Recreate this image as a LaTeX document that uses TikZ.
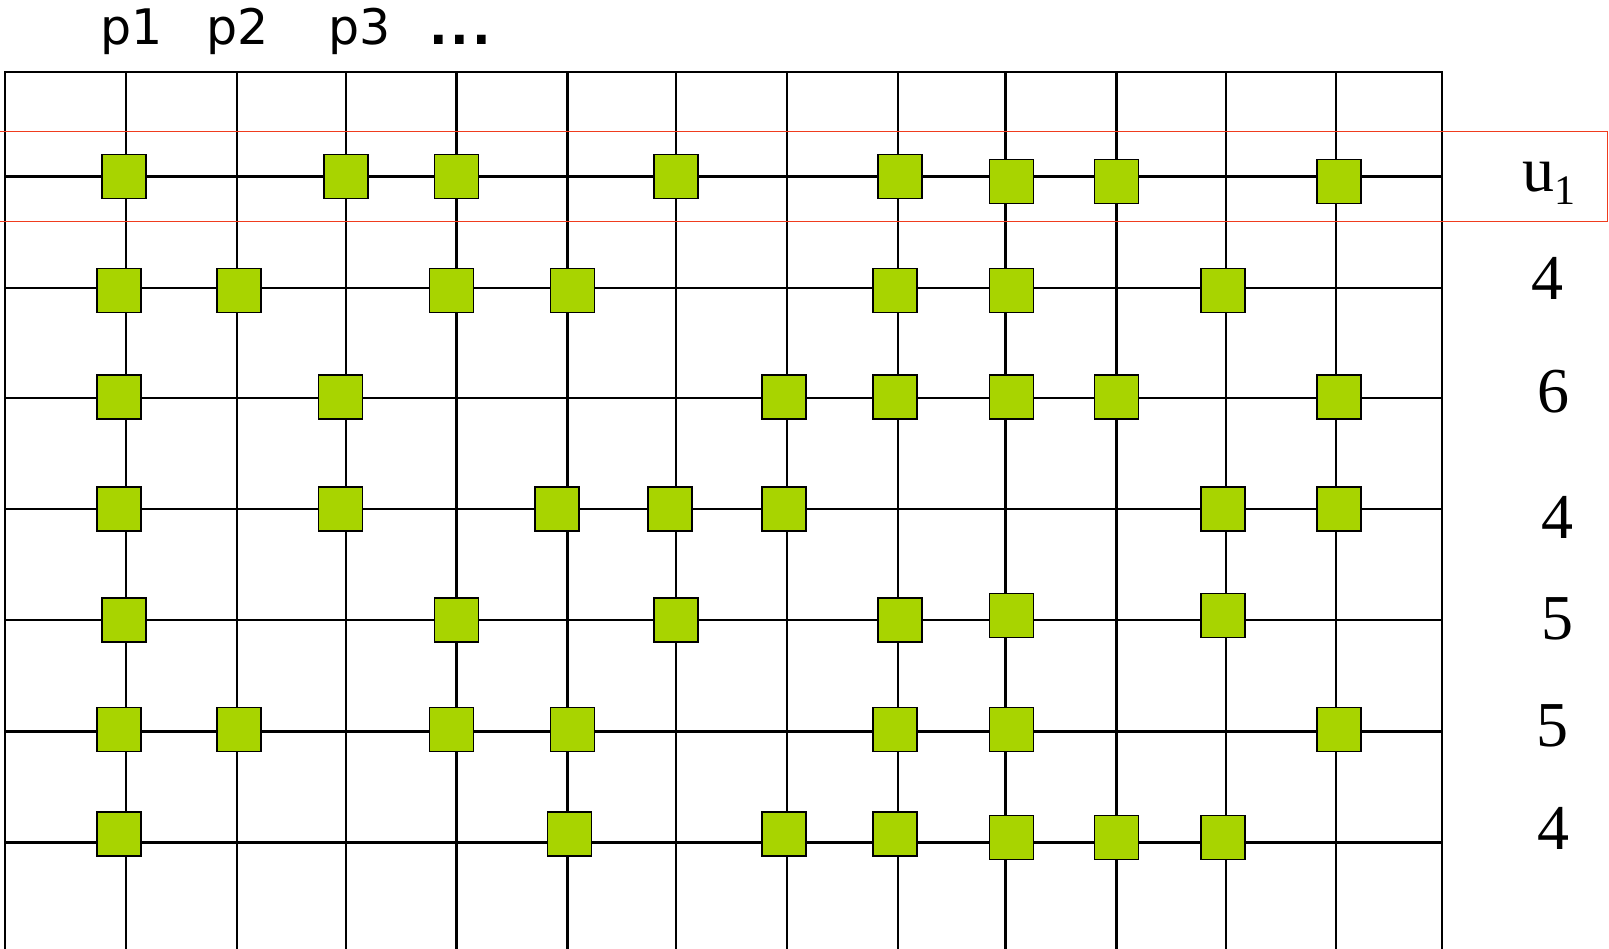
\documentclass[tikz,border=0pt]{standalone}
\usepackage{fontspec}
\setmainfont{Liberation Serif}
\newfontfamily\pfont{DejaVu Sans}
\definecolor{cellgreen}{RGB}{168,212,0}
\definecolor{boxred}{RGB}{240,60,30}
\begin{document}
\begin{tikzpicture}[x=1pt,y=-1pt,
  gridline/.style={line width=2.3pt,black},
  cell/.style={draw=black,line width=1.5pt,fill=cellgreen,minimum width=44pt,minimum height=44pt,inner sep=0pt,outer sep=0pt},
  rowlabel/.style={font=\fontsize{64}{70}\selectfont,anchor=base,inner sep=0pt},
  collabel/.style={font=\pfont\fontsize{49}{52}\selectfont,anchor=base,inner sep=0pt}]
\useasboundingbox (0,0) rectangle (1609,948);
% grid
\foreach \x in {126.2,237.0,345.8,456.6,567.4,676.2,787.0,897.8,1005.6,1116.4,1226.2,1336.0}
  \draw[gridline] (\x,71.8) -- (\x,950);
\foreach \y in {176.5,288.3,398.1,508.9,619.8,731.6,842.4}
  \draw[gridline] (5.1,\y) -- (1441.7,\y);
\draw[gridline] (5.1,950) -- (5.1,71.8) -- (1441.7,71.8) -- (1441.7,950);
% column labels
\node[collabel] (p1) at (132,44) {p1};
\node[collabel] (p2) at (237.5,44) {p2};
\node[collabel] (p3) at (360,44) {p3};
\node[collabel] (pd) at (460,44) {\bfseries .\kern3pt.\kern3pt.};
% row 1
\foreach \x/\y [count=\i] in {124.2/176.5,345.8/176.5,456.6/176.5,676.2/176.5,899.9/176.5,1011.7/181.6,1116.4/181.6,1339.1/181.6}
  \node[cell] (a\i) at (\x,\y) {};
% row 2
\foreach \x [count=\i] in {119.0,239.1,451.5,572.6,894.8,1011.7,1223.1}
  \node[cell] (b\i) at (\x,290.4) {};
% row 3
\foreach \x [count=\i] in {119.0,340.7,783.9,894.8,1011.7,1116.4,1339.1}
  \node[cell] (c\i) at (\x,397.1) {};
% row 4
\foreach \x [count=\i] in {119.0,340.7,557.2,670.0,783.9,1223.1,1339.1}
  \node[cell] (d\i) at (\x,508.9) {};
% row 5
\foreach \x/\y [count=\i] in {124.2/619.8,456.6/619.8,676.2/619.8,899.9/619.8,1011.7/615.7,1223.1/615.7}
  \node[cell] (e\i) at (\x,\y) {};
% row 6
\foreach \x [count=\i] in {119.0,239.1,451.5,572.6,894.8,1011.7,1339.1}
  \node[cell] (f\i) at (\x,729.6) {};
% row 7
\foreach \x/\y [count=\i] in {119.0/834.2,569.5/834.2,783.9/834.2,894.8/834.2,1011.7/837.3,1116.4/837.3,1223.1/837.3}
  \node[cell] (g\i) at (\x,\y) {};
% red highlight box
\draw[boxred,line width=1.4pt] (-2,131.5) rectangle (1607.5,221.7);
% row labels
\node[rowlabel] (r1) at (1549,191.7) {u{\fontsize{42}{42}\selectfont\raisebox{-13pt}{1}}};
\node[rowlabel] (r2) at (1547,299.6) {4};
\node[rowlabel] (r3) at (1553,412.5) {6};
\node[rowlabel] (r4) at (1557,538.7) {4};
\node[rowlabel] (r5) at (1557,639) {5};
\node[rowlabel] (r6) at (1552,746) {5};
\node[rowlabel] (r7) at (1553,849.6) {4};
\end{tikzpicture}
\end{document}
